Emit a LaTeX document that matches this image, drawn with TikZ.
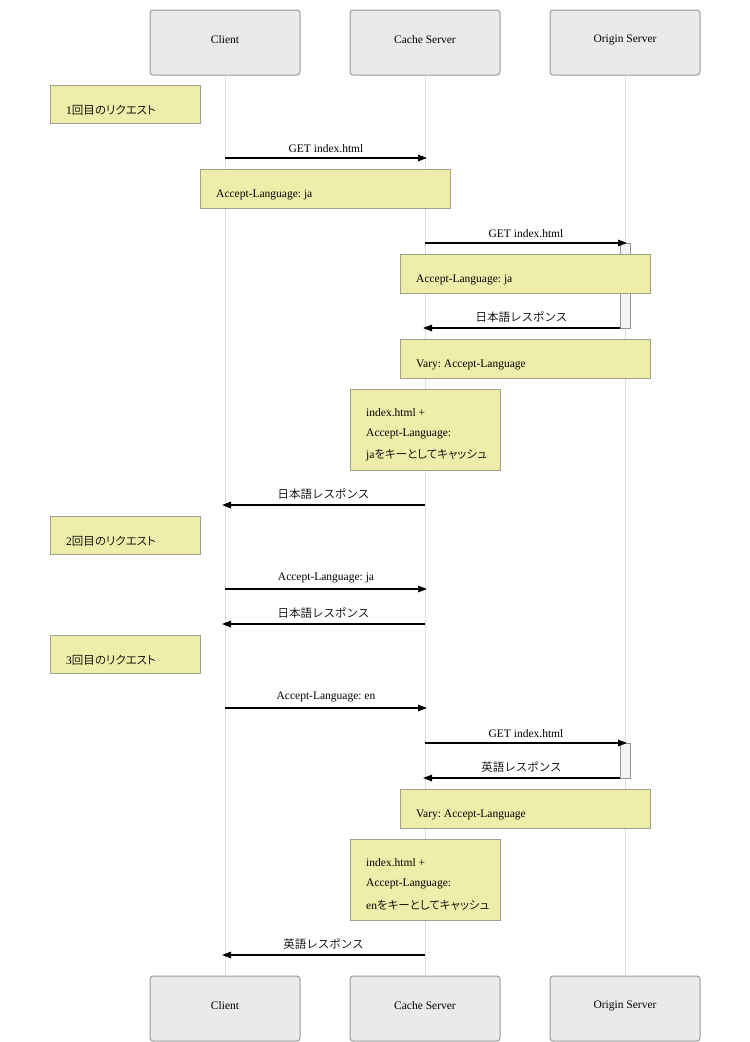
\documentclass[tikz,border=0pt]{standalone}
\usepackage{fontspec}
\setmainfont{Liberation Serif}
\newfontfamily\jp{Noto Sans CJK JP DemiLight}
\newfontfamily\jpp[RawFeature={+palt}]{Noto Sans CJK JP DemiLight}
\usetikzlibrary{arrows.meta}
\definecolor{actfill}{HTML}{EAEAEA}
\definecolor{actdraw}{HTML}{999999}
\definecolor{notefill}{HTML}{EEEEAA}
\definecolor{notedraw}{HTML}{A0A08C}
\definecolor{lifec}{HTML}{DDDDDD}
\definecolor{actvfill}{HTML}{F4F4F4}
\definecolor{actvdraw}{HTML}{666666}
\tikzset{
  actor/.style={draw=actdraw, fill=actfill, line width=1pt, rounded corners=3pt, minimum width=150pt, minimum height=65pt, inner sep=0pt},
  atext/.style={inner sep=0pt, font=\fontsize{11.5}{13}\selectfont},
  note/.style={draw=notedraw, fill=notefill, line width=1pt, inner sep=0pt, anchor=north west},
  ntext/.style={anchor=west, inner sep=0pt, font=\fontsize{11.5}{13}\selectfont},
  life/.style={draw=lifec, line width=1pt},
  msg/.style={line width=1.5pt, -{Triangle[length=9pt,width=6.5pt]}},
  mlabel/.style={above=5pt, inner sep=0pt, font=\fontsize{11.5}{13}\selectfont},
  activ/.style={draw=actvdraw!70, fill=actvfill, line width=1pt, minimum width=10pt, inner sep=0pt, anchor=north}
}
\begin{document}
\frenchspacing
\begin{tikzpicture}[x=1pt,y=-1pt]
\useasboundingbox (0,0) rectangle (750,1042);
% actors
\node[actor] (cT) at (225,42.5) {};
\node[actor] (sT) at (425,42.5) {};
\node[actor] (oT) at (625,42.5) {};
\node[actor] (cB) at (225,1008.5) {};
\node[actor] (sB) at (425,1008.5) {};
\node[actor] (oB) at (625,1008.5) {};
\node[atext] at ([yshift=3pt]cT.center) {Client};
\node[atext] at ([yshift=3pt]sT.center) {Cache Server};
\node[atext] at ([yshift=3pt]oT.center) {Origin Server};
\node[atext] at ([yshift=3pt]cB.center) {Client};
\node[atext] at ([yshift=3pt]sB.center) {Cache Server};
\node[atext] at ([yshift=3pt]oB.center) {Origin Server};
% lifelines
\draw[life] (cT.south) -- (cB.north);
\draw[life] (sT.south) -- (sB.north);
\draw[life] (oT.south) -- (oB.north);
% activations
\node[activ, minimum height=85pt] (a1) at (625,243) {};
\node[activ, minimum height=35pt] (a2) at (625,743) {};
% notes
\node[note, minimum width=150pt, minimum height=38pt] (n1) at (50,85) {};
\node[ntext] at ([xshift=16pt,yshift=-5.5pt]n1.west) {1\jpp 回目のリクエスト};
\node[note, minimum width=250pt, minimum height=39pt] (n2) at (200,169) {};
\node[ntext] at ([xshift=16pt,yshift=-5.5pt]n2.west) {Accept-Language: ja};
\node[note, minimum width=250pt, minimum height=39pt] (n3) at (400,254) {};
\node[ntext] at ([xshift=16pt,yshift=-5.5pt]n3.west) {Accept-Language: ja};
\node[note, minimum width=250pt, minimum height=39pt] (n4) at (400,339) {};
\node[ntext] at ([xshift=16pt,yshift=-5.5pt]n4.west) {Vary: Accept-Language};
\node[note, minimum width=150pt, minimum height=81pt] (n5) at (350,389) {};
\node[ntext] (n5a) at (366,413) {index.html +};
\node[ntext] (n5b) at (366,434) {Accept-Language:};
\node[ntext] (n5c) at (366,455) {ja{\jpp をキーとしてキャッシュ}};
\node[note, minimum width=150pt, minimum height=38pt] (n6) at (50,516) {};
\node[ntext] at ([xshift=16pt,yshift=-5.5pt]n6.west) {2\jpp 回目のリクエスト};
\node[note, minimum width=150pt, minimum height=38pt] (n7) at (50,635) {};
\node[ntext] at ([xshift=16pt,yshift=-5.5pt]n7.west) {3\jpp 回目のリクエスト};
\node[note, minimum width=250pt, minimum height=39pt] (n8) at (400,789) {};
\node[ntext] at ([xshift=16pt,yshift=-5.5pt]n8.west) {Vary: Accept-Language};
\node[note, minimum width=150pt, minimum height=81pt] (n9) at (350,839) {};
\node[ntext] (n9a) at (366,863) {index.html +};
\node[ntext] (n9b) at (366,884) {Accept-Language:};
\node[ntext] (n9c) at (366,905) {en{\jpp をキーとしてキャッシュ}};
% message endpoints
\coordinate (m1a) at (225,158); \coordinate (m1b) at (427,158);
\coordinate (m2a) at (425,243); \coordinate (m2b) at (627,243);
\coordinate (m3a) at (620,328); \coordinate (m3b) at (423,328);
\coordinate (m4a) at (425,505); \coordinate (m4b) at (222,505);
\coordinate (m5a) at (225,589); \coordinate (m5b) at (427,589);
\coordinate (m6a) at (425,624); \coordinate (m6b) at (222,624);
\coordinate (m7a) at (225,708); \coordinate (m7b) at (427,708);
\coordinate (m8a) at (425,743); \coordinate (m8b) at (627,743);
\coordinate (m9a) at (620,778); \coordinate (m9b) at (423,778);
\coordinate (m10a) at (425,955); \coordinate (m10b) at (222,955);
% messages
\draw[msg] (m1a) -- node[mlabel] {GET index.html} (m1b);
\draw[msg] (m2a) -- node[mlabel] {GET index.html} (m2b);
\draw[msg] (m3a) -- node[mlabel] {\jp 日本語レスポンス} (m3b);
\draw[msg] (m4a) -- node[mlabel] {\jp 日本語レスポンス} (m4b);
\draw[msg] (m5a) -- node[mlabel] {Accept-Language: ja} (m5b);
\draw[msg] (m6a) -- node[mlabel] {\jp 日本語レスポンス} (m6b);
\draw[msg] (m7a) -- node[mlabel] {Accept-Language: en} (m7b);
\draw[msg] (m8a) -- node[mlabel] {GET index.html} (m8b);
\draw[msg] (m9a) -- node[mlabel] {\jp 英語レスポンス} (m9b);
\draw[msg] (m10a) -- node[mlabel] {\jp 英語レスポンス} (m10b);
\end{tikzpicture}
\end{document}
